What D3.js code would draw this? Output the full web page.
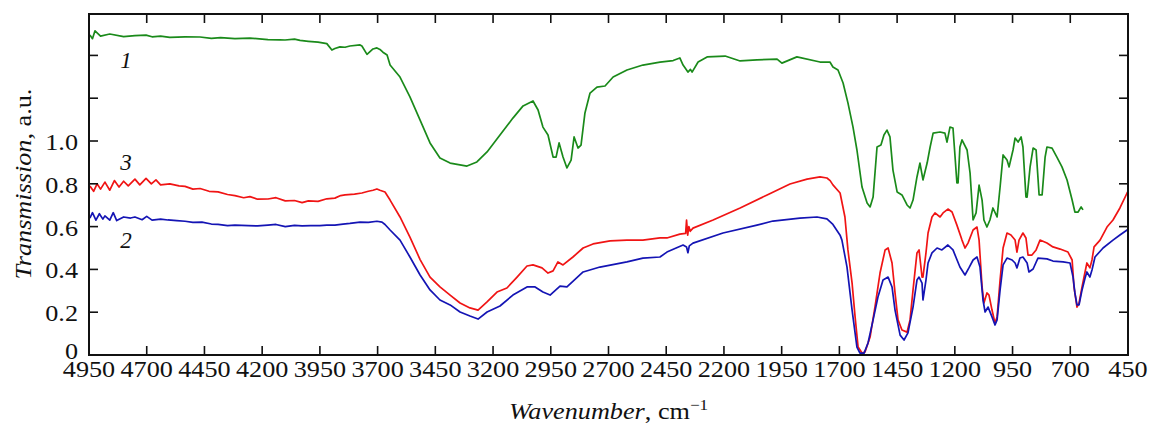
<!DOCTYPE html>
<html><head><meta charset="utf-8">
<script src="https://cdn.jsdelivr.net/npm/d3@7"></script>
<style>
html,body{margin:0;padding:0;background:#fff;}
svg{display:block;}
text{font-family:"Liberation Serif","Times New Roman",serif;fill:#111;}
</style></head>
<body>
<svg id="chart" width="1149" height="423"></svg>
<script>
// ---- data ----
const xTicks = [4950,4700,4450,4200,3950,3700,3450,3200,2950,2700,2450,2200,1950,1700,1450,1200,950,700,450];
const yTicks = [0,0.2,0.4,0.6,0.8,1.0,1.2,1.4];
const yTickLabels = ["0","0.2","0.4","0.6","0.8","1.0","",""];
const seriesNames = ["1","2","3"];

// curve 1 (green): [wavenumber, transmission]
const curve1 = [
[4946,1.495],[4935,1.478],[4924,1.515],[4900,1.490],[4860,1.500],[4800,1.488],[4751,1.492],[4703,1.495],[4677,1.487],[4640,1.490],[4600,1.484],[4534,1.487],[4469,1.486],[4420,1.480],[4380,1.483],[4318,1.478],[4253,1.481],[4200,1.476],[4175,1.474],[4123,1.473],[4101,1.472],[4060,1.476],[4036,1.470],[4000,1.466],[3958,1.462],[3920,1.455],[3898,1.425],[3885,1.432],[3863,1.440],[3841,1.438],[3820,1.444],[3776,1.449],[3768,1.444],[3746,1.405],[3720,1.430],[3703,1.435],[3690,1.428],[3677,1.415],[3659,1.402],[3646,1.355],[3603,1.299],[3560,1.206],[3516,1.098],[3473,0.991],[3430,0.921],[3386,0.897],[3313,0.883],[3270,0.902],[3226,0.949],[3170,1.028],[3114,1.107],[3070,1.164],[3027,1.187],[3005,1.145],[2984,1.065],[2962,1.028],[2940,0.925],[2927,0.925],[2914,0.991],[2897,0.925],[2880,0.874],[2862,0.911],[2849,1.019],[2832,0.967],[2819,0.981],[2802,1.131],[2780,1.224],[2750,1.252],[2715,1.257],[2680,1.299],[2620,1.332],[2551,1.355],[2477,1.369],[2420,1.376],[2391,1.388],[2377,1.355],[2356,1.322],[2345,1.335],[2338,1.322],[2312,1.369],[2273,1.393],[2195,1.397],[2130,1.374],[2057,1.379],[1970,1.383],[1949,1.364],[1884,1.393],[1784,1.369],[1741,1.369],[1728,1.346],[1706,1.332],[1684,1.271],[1663,1.178],[1641,1.065],[1624,0.958],[1602,0.785],[1580,0.710],[1567,0.692],[1554,0.738],[1537,0.972],[1520,0.981],[1507,1.028],[1494,1.051],[1481,1.019],[1468,0.864],[1450,0.762],[1429,0.748],[1407,0.701],[1394,0.687],[1381,0.724],[1364,0.832],[1351,0.897],[1338,0.818],[1320,0.897],[1307,0.972],[1294,1.037],[1264,1.042],[1243,1.037],[1234,0.995],[1221,1.065],[1208,1.061],[1199,0.925],[1191,0.804],[1186,0.804],[1178,0.972],[1169,1.005],[1147,0.958],[1134,0.850],[1121,0.631],[1108,0.664],[1095,0.794],[1082,0.724],[1074,0.631],[1061,0.598],[1048,0.631],[1035,0.687],[1017,0.645],[1004,0.785],[991,0.935],[974,0.911],[965,0.879],[948,0.958],[939,1.014],[926,0.995],[913,1.019],[905,0.972],[892,0.738],[887,0.738],[874,0.879],[861,0.967],[848,0.958],[835,0.748],[822,0.748],[809,0.925],[801,0.972],[779,0.967],[758,0.925],[736,0.879],[714,0.818],[692,0.724],[680,0.668],[666,0.668],[653,0.692],[645,0.678]
];

// curve 2 (blue)
const curve2 = [
[4946,0.640],[4935,0.665],[4920,0.630],[4905,0.660],[4890,0.635],[4881,0.650],[4860,0.630],[4845,0.665],[4830,0.628],[4800,0.645],[4770,0.640],[4751,0.645],[4720,0.632],[4700,0.648],[4677,0.630],[4640,0.635],[4608,0.631],[4570,0.628],[4534,0.625],[4500,0.620],[4461,0.621],[4420,0.612],[4391,0.610],[4350,0.605],[4318,0.607],[4260,0.605],[4220,0.603],[4175,0.607],[4140,0.610],[4100,0.600],[4060,0.606],[4027,0.603],[3990,0.605],[3950,0.605],[3920,0.607],[3885,0.607],[3850,0.612],[3820,0.615],[3776,0.621],[3740,0.620],[3703,0.625],[3681,0.621],[3668,0.610],[3646,0.584],[3603,0.537],[3560,0.458],[3516,0.374],[3473,0.304],[3430,0.257],[3386,0.234],[3343,0.201],[3300,0.182],[3265,0.168],[3226,0.201],[3170,0.229],[3114,0.280],[3053,0.318],[3018,0.318],[2984,0.294],[2953,0.280],[2910,0.322],[2880,0.318],[2810,0.388],[2737,0.411],[2620,0.435],[2551,0.453],[2477,0.458],[2447,0.481],[2377,0.514],[2362,0.505],[2356,0.478],[2350,0.510],[2334,0.523],[2204,0.570],[2057,0.607],[1988,0.626],[1871,0.640],[1797,0.645],[1754,0.636],[1728,0.610],[1697,0.560],[1689,0.537],[1667,0.411],[1645,0.210],[1624,0.037],[1611,0.009],[1593,0.009],[1576,0.056],[1554,0.164],[1533,0.271],[1511,0.350],[1489,0.364],[1472,0.318],[1459,0.210],[1437,0.093],[1420,0.070],[1403,0.103],[1381,0.224],[1364,0.350],[1355,0.364],[1342,0.336],[1338,0.257],[1325,0.350],[1316,0.430],[1299,0.477],[1277,0.500],[1256,0.491],[1230,0.514],[1208,0.491],[1178,0.411],[1156,0.374],[1139,0.407],[1121,0.444],[1104,0.458],[1091,0.411],[1078,0.257],[1069,0.201],[1056,0.224],[1039,0.178],[1026,0.140],[1017,0.164],[1004,0.304],[991,0.421],[974,0.453],[952,0.444],[939,0.430],[931,0.407],[918,0.453],[905,0.458],[887,0.430],[879,0.388],[861,0.402],[840,0.453],[801,0.449],[775,0.439],[731,0.435],[701,0.430],[688,0.364],[680,0.290],[671,0.234],[662,0.234],[649,0.304],[636,0.360],[628,0.388],[615,0.364],[606,0.397],[593,0.458],[558,0.500],[515,0.537],[485,0.561],[454,0.584],[450,0.588]
];

// curve 3 (red)
const curve3 = [
[4946,0.790],[4930,0.765],[4915,0.800],[4900,0.775],[4881,0.808],[4860,0.770],[4840,0.815],[4820,0.785],[4800,0.812],[4780,0.790],[4751,0.822],[4730,0.795],[4703,0.825],[4680,0.800],[4660,0.818],[4640,0.795],[4600,0.800],[4560,0.790],[4534,0.788],[4500,0.775],[4469,0.778],[4430,0.765],[4391,0.762],[4350,0.750],[4318,0.745],[4280,0.735],[4253,0.740],[4220,0.728],[4175,0.729],[4140,0.735],[4100,0.720],[4060,0.722],[4027,0.712],[4000,0.720],[3958,0.718],[3920,0.730],[3885,0.733],[3860,0.745],[3841,0.748],[3800,0.752],[3768,0.757],[3740,0.765],[3720,0.770],[3703,0.776],[3690,0.770],[3668,0.762],[3646,0.724],[3603,0.645],[3560,0.551],[3516,0.446],[3473,0.364],[3430,0.318],[3386,0.280],[3343,0.243],[3300,0.220],[3265,0.210],[3226,0.248],[3183,0.294],[3140,0.313],[3096,0.364],[3053,0.416],[3027,0.421],[2988,0.407],[2962,0.383],[2940,0.393],[2919,0.435],[2897,0.421],[2854,0.458],[2810,0.500],[2767,0.519],[2693,0.533],[2620,0.537],[2551,0.537],[2477,0.547],[2447,0.547],[2391,0.565],[2366,0.568],[2362,0.630],[2357,0.560],[2352,0.600],[2346,0.578],[2334,0.593],[2247,0.631],[2130,0.687],[2013,0.748],[1914,0.799],[1840,0.822],[1784,0.832],[1754,0.827],[1740,0.815],[1728,0.795],[1697,0.757],[1676,0.645],[1663,0.491],[1645,0.336],[1632,0.178],[1619,0.037],[1602,0.009],[1589,0.014],[1567,0.084],[1546,0.224],[1524,0.383],[1502,0.491],[1489,0.500],[1472,0.430],[1459,0.290],[1446,0.164],[1429,0.117],[1407,0.107],[1394,0.164],[1381,0.304],[1364,0.477],[1355,0.491],[1342,0.364],[1338,0.364],[1325,0.477],[1316,0.570],[1299,0.645],[1286,0.664],[1264,0.645],[1251,0.664],[1230,0.682],[1212,0.668],[1191,0.607],[1169,0.537],[1156,0.500],[1143,0.523],[1121,0.584],[1104,0.598],[1095,0.537],[1082,0.318],[1074,0.243],[1061,0.290],[1052,0.280],[1039,0.210],[1026,0.150],[1017,0.178],[1004,0.350],[991,0.500],[974,0.570],[957,0.561],[939,0.537],[931,0.481],[922,0.537],[905,0.570],[892,0.547],[883,0.467],[866,0.467],[848,0.491],[831,0.537],[801,0.523],[775,0.505],[744,0.495],[710,0.481],[692,0.444],[684,0.318],[671,0.224],[662,0.243],[649,0.318],[636,0.388],[628,0.430],[615,0.407],[606,0.444],[597,0.505],[571,0.537],[541,0.598],[515,0.631],[485,0.687],[454,0.757],[450,0.765]
];

const series = [
  {name:"1", data:curve1, color:"#1a8a1a", label:[4790,1.341]},
  {name:"3", data:curve3, color:"#f01414", label:[4790,0.864]},
  {name:"2", data:curve2, color:"#1414b4", label:[4790,0.500]}
];

// ---- layout ----
const svg = d3.select("#chart");
const L = 89, R = 1128, T = 14, B = 355;
const x = d3.scaleLinear().domain([4950,450]).range([L,R]);
const y = d3.scaleLinear().domain([0,1.5935]).range([B,T]);
const TL = 9;
const SX = 1.14;

// curves
const line = d3.line().x(d=>x(d[0])).y(d=>y(d[1])).curve(d3.curveLinear);
svg.append("clipPath").attr("id","clp").append("rect")
  .attr("x",L).attr("y",T).attr("width",R-L).attr("height",B-T);
const g = svg.append("g").attr("clip-path","url(#clp)");
series.forEach(s=>{
  g.append("path").datum(s.data).attr("d",line)
   .attr("fill","none").attr("stroke",s.color).attr("stroke-width",1.7)
   .attr("stroke-linejoin","round");
});

// ticks (inward, all sides)
const tk = svg.append("g").attr("stroke","#111").attr("stroke-width",1.6);
xTicks.forEach(v=>{
  tk.append("line").attr("x1",x(v)).attr("x2",x(v)).attr("y1",B).attr("y2",B-TL);
  tk.append("line").attr("x1",x(v)).attr("x2",x(v)).attr("y1",T).attr("y2",T+TL);
});
yTicks.forEach(v=>{
  tk.append("line").attr("x1",L).attr("x2",L+TL).attr("y1",y(v)).attr("y2",y(v));
  tk.append("line").attr("x1",R).attr("x2",R-TL).attr("y1",y(v)).attr("y2",y(v));
});

// frame
svg.append("rect").attr("x",L).attr("y",T).attr("width",R-L).attr("height",B-T)
  .attr("fill","none").attr("stroke","#111").attr("stroke-width",2);

// x tick labels
xTicks.forEach(v=>{
  svg.append("text").attr("transform",`translate(${x(v)},${B+22}) scale(${SX},1)`)
    .attr("text-anchor","middle").attr("font-size",23).text(v);
});
// y tick labels
yTicks.forEach((v,i)=>{
  if(!yTickLabels[i]) return;
  const dy = v === 0 ? 4 : 9;
  svg.append("text").attr("transform",`translate(${L-11},${y(v)+dy}) scale(${SX},1)`)
    .attr("text-anchor","end").attr("font-size",23).text(yTickLabels[i]);
});

// series labels
series.forEach(s=>{
  svg.append("text").attr("x",x(s.label[0])).attr("y",y(s.label[1]))
    .attr("text-anchor","middle").attr("font-size",23).attr("font-style","italic").text(s.name);
});

// axis titles
const xt = svg.append("text").attr("transform",`translate(${(L+R)/2},${419}) scale(${SX},1)`)
  .attr("text-anchor","middle").attr("font-size",23);
xt.append("tspan").attr("font-style","italic").text("Wavenumber");
xt.append("tspan").text(", cm");
xt.append("tspan").attr("font-size",15).attr("dy",-9).text("\u22121");

const yt = svg.append("text").attr("transform",`translate(31,${184}) rotate(-90) scale(${SX},1)`)
  .attr("text-anchor","middle").attr("font-size",23);
yt.append("tspan").attr("font-style","italic").text("Transmission");
yt.append("tspan").text(", a.u.");
</script>
</body></html>
